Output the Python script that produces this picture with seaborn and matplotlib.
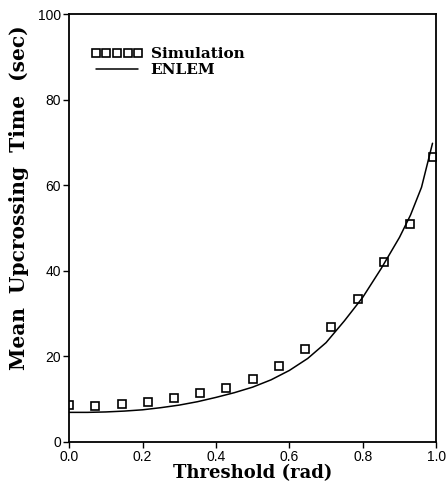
import numpy as np
import pandas as pd
import matplotlib
matplotlib.use("Agg")
import matplotlib.pyplot as plt
import seaborn as sns

# simulated points
sim_x = [0.0, 0.0714, 0.1429, 0.2143, 0.2857, 0.3571, 0.4286, 0.5,
         0.5714, 0.6429, 0.7143, 0.7857, 0.8571, 0.9286, 0.99]
sim_y = [8.6, 8.5, 8.8, 9.3, 10.3, 11.4, 12.7, 14.7,
         17.8, 21.7, 26.8, 33.3, 42.1, 50.9, 66.7]

# ENLEM curve
enlem_x = [0.0, 0.05, 0.1, 0.15, 0.2, 0.25, 0.3, 0.35, 0.4, 0.45, 0.5,
           0.55, 0.6, 0.65, 0.7, 0.75, 0.8, 0.85, 0.9, 0.93, 0.96, 0.99]
enlem_y = [6.9, 6.9, 7.0, 7.2, 7.5, 8.0, 8.6, 9.4, 10.4, 11.5, 12.8,
           14.5, 16.7, 19.5, 23.2, 28.3, 33.8, 40.5, 47.8, 53.0, 59.5, 69.8]

x_ticks = [0.0, 0.2, 0.4, 0.6, 0.8, 1.0]
y_ticks = [0, 20, 40, 60, 80, 100]

sns.set_style("ticks")
plt.rcParams["font.family"] = ["Liberation Sans", "DejaVu Sans"]
plt.rcParams["text.color"] = "black"
plt.rcParams["axes.labelcolor"] = "black"

sim_df = pd.DataFrame({"x": sim_x, "y": sim_y})
enlem_df = pd.DataFrame({"x": enlem_x, "y": enlem_y})

fig = plt.figure(figsize=(4.46, 4.84), dpi=100)
ax = fig.add_axes([0.155, 0.087, 0.823, 0.884])

sns.lineplot(data=sim_df, x="x", y="y", ax=ax, ls="", marker="s",
             mfc="none", mec="black", ms=5.5, mew=1.2, color="black",
             label="Simulation")
sns.lineplot(data=enlem_df, x="x", y="y", ax=ax, color="black", lw=1.1,
             label="ENLEM")

ax.set_xlim(0, 1)
ax.set_ylim(0, 100)
ax.set_xticks(x_ticks)
ax.set_xticklabels([f"{v:.1f}" for v in x_ticks])
ax.set_yticks(y_ticks)
ax.tick_params(direction="out", length=4, width=1, labelsize=10, pad=2,
               colors="black")
for s in ax.spines.values():
    s.set_linewidth(1.3)
    s.set_color("black")

ax.set_xlabel("Threshold (rad)", labelpad=0, family="DejaVu Serif",
              weight="bold", size=13)
ax.set_ylabel("Mean  Upcrossing  Time  (sec)", family="DejaVu Serif",
              weight="bold", size=14.5)
ax.yaxis.set_label_coords(-0.108, 0.571)

leg = ax.legend(loc="upper left", bbox_to_anchor=(0.022, 0.955), numpoints=5,
                handlelength=3.4, handletextpad=0.5, labelspacing=0.15,
                frameon=False, prop=dict(family="DejaVu Serif", weight="bold", size=11))

fig.savefig("out.png", dpi=100)
